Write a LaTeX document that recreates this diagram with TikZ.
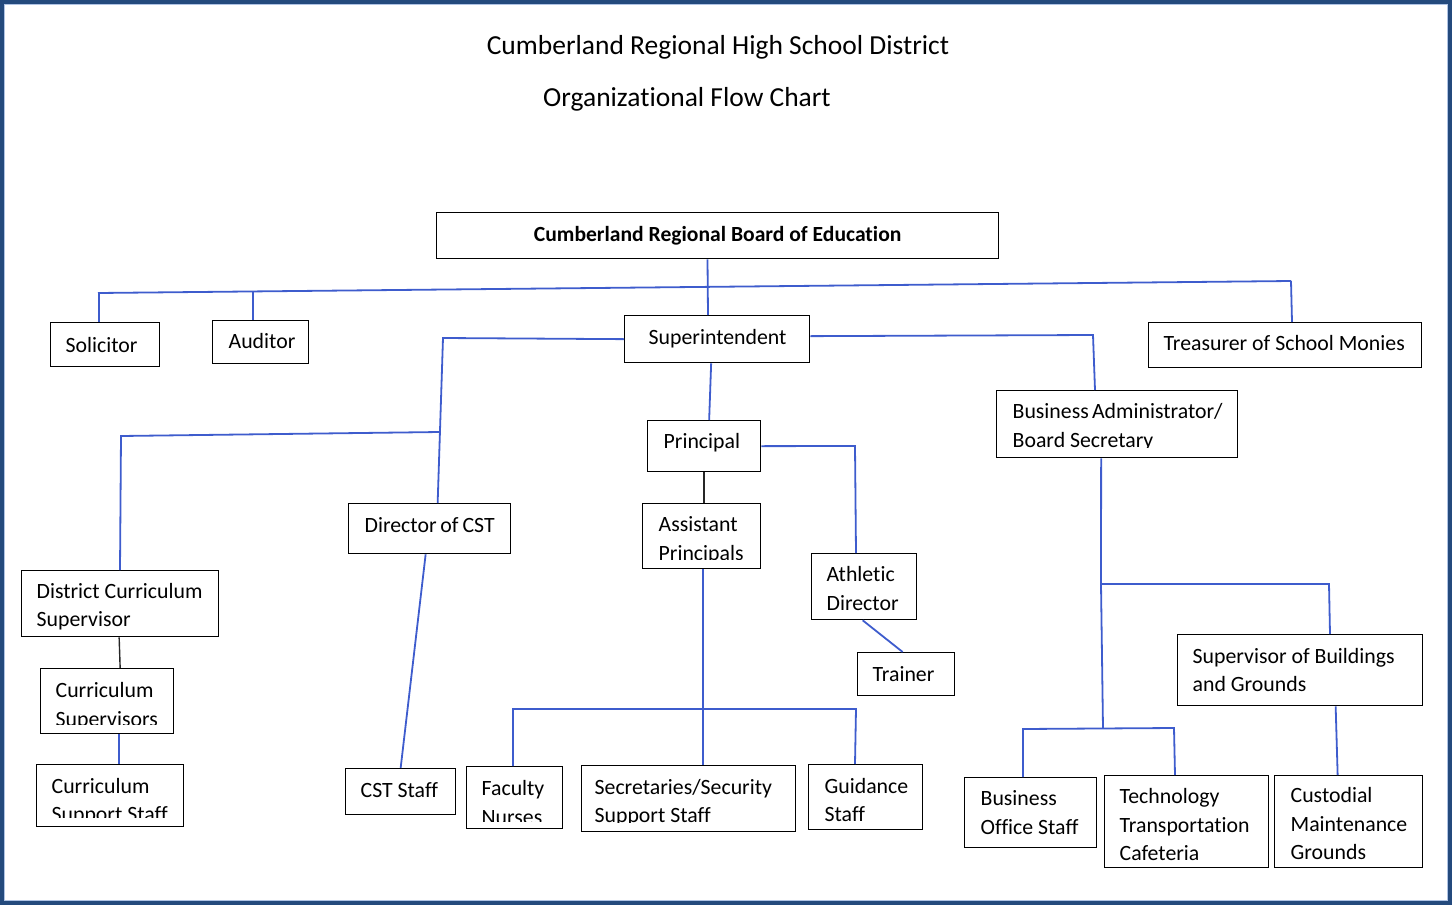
\documentclass[tikz,border=0pt]{standalone}
\usepackage{fontspec}
\setmainfont{Carlito}[Ligatures={NoCommon,NoContextual}]
\hyphenpenalty=10000
\exhyphenpenalty=10000
\newcommand\bxfont{\fontsize{21.8}{28.5}\selectfont}
\newcommand\ttlfont{\fontsize{27.5}{32}\selectfont}
\newcommand\brdfont{\fontsize{21.6}{25}\selectfont\bfseries}
\newcommand\vsend[1]{\endgraf\vspace*{-#1}}
\definecolor{framecol}{RGB}{36,74,125}
\definecolor{framelite}{RGB}{175,195,228}
\definecolor{conn}{RGB}{62,92,205}
\begin{document}
\begin{tikzpicture}[x=1pt,y=-1pt,
  box/.style={draw=black, line width=1.3pt, anchor=north west, align=left, inner ysep=1pt, font=\bxfont, text=black,
    execute at begin node={\spaceskip=0pt\xspaceskip=0pt}},
  vs/.style={execute at end node={\vsend{#1}}},
  link/.style={draw=conn, line width=1.8pt},
  blink/.style={draw=black!85, line width=1.4pt},
  ttl/.style={font=\ttlfont, text=black, inner sep=0pt},
  cover/.style={fill=white, draw=none}]
\useasboundingbox (0,0) rectangle (1452,905);
\draw[framecol, line width=4pt] (2,2) rectangle (1450,903);
\draw[framelite, line width=1pt] (4.5,4.5) rectangle (1447.5,900.5);

% titles
\node[ttl] (t1) at (718,47) {Cumberland Regional High School District};
\node[ttl] (t2) at (687,99) {Organizational Flow Chart};

% boxes
\node[box, font=\brdfont, minimum width=562pt, inner xsep=0pt, minimum height=46pt] (board) at (436,212) {Cumberland Regional Board of Education};
\node[box, text width=79pt, inner xsep=15pt, minimum height=44pt] (sol) at (50,322) {Solicitor};
\node[box, text width=64pt, inner xsep=16pt, minimum height=43pt, vs=-2pt] (aud) at (212,320) {Auditor};
\node[box, text width=137pt, inner xsep=24pt, minimum height=47pt] (sup) at (624,315) {Superintendent};
\node[box, text width=243pt, inner xsep=15pt, minimum height=45pt, vs=-4pt] (tre) at (1148,322) {Treasurer~of~School~Monies};
\node[box, text width=81pt, inner xsep=16pt, minimum height=51pt, vs=-6pt] (pri) at (647,420) {Principal};
\node[box, text width=209pt, inner xsep=16pt, minimum height=67pt, vs=6pt] (ba) at (996,390) {Business~Administrator/\\Board~Secretary};
\node[box, text width=130pt, inner xsep=16pt, minimum height=50pt, vs=-8pt] (dir) at (348,503) {Director~of~CST};
\node[box, text width=86pt, inner xsep=16pt, minimum height=65pt, vs=8pt] (ap) at (642,503) {Assistant\\Principals};
\node[box, text width=75pt, inner xsep=15pt, minimum height=66pt, vs=4pt] (ad) at (811,553) {Athletic\\Director};
\node[box, text width=67pt, inner xsep=15pt, minimum height=43pt] (tr) at (857,652) {Trainer};
\node[box, text width=167pt, inner xsep=15pt, minimum height=66pt, vs=6pt] (dcs) at (21,570) {District~Curriculum\\Supervisor};
\node[box, text width=103pt, inner xsep=15pt, minimum height=65pt, vs=10pt] (cs) at (40,668) {Curriculum\\Supervisors};
\node[box, text width=117pt, inner xsep=15pt, minimum height=62pt, vs=12pt] (css) at (36,764) {Curriculum\\Support~Staff};
\node[box, text width=80pt, inner xsep=15pt, minimum height=46pt, vs=-4pt] (cst) at (345,768) {CST~Staff};
\node[box, text width=66pt, inner xsep=15pt, minimum height=62pt, vs=10pt] (fac) at (466,766) {Faculty\\Nurses};
\node[box, text width=188pt, inner xsep=13pt, minimum height=66pt, vs=8pt] (sec) at (581,765) {Secretaries/Security\\Support~Staff};
\node[box, text width=82pt, inner xsep=16pt, minimum height=65pt, vs=6pt] (gui) at (808,764) {Guidance\\Staff};
\node[box, text width=100pt, inner xsep=16pt, minimum height=70pt] (bos) at (964,777) {Business\\Office~Staff};
\node[box, text width=134pt, inner xsep=15pt, minimum height=92pt, vs=6pt] (tec) at (1104,775) {Technology\\Transportation\\Cafeteria};
\node[box, text width=116pt, inner xsep=16pt, minimum height=92pt, vs=4pt] (cus) at (1274,775) {Custodial\\Maintenance\\Grounds};
\node[box, text width=215pt, inner xsep=15pt, minimum height=71pt] (sbg) at (1177,634) {Supervisor~of~Buildings\\and~Grounds};

% clipped lower text lines, as in the scan
\fill[cover] (37.5,818) rectangle (181.5,824.5);
\fill[cover] (467.5,822) rectangle (560.5,826.5);
\fill[cover] (582.5,822.5) rectangle (793.5,829.5);
\fill[cover] (41.5,725) rectangle (171.5,731.5);
\fill[cover] (643.5,559.5) rectangle (758.5,566.5);
\fill[cover] (997.5,448) rectangle (1235.5,455.5);

% junction points
\coordinate (hL) at (98,293);
\coordinate (hR) at (1291,281);
\coordinate (hSol) at (99,293);
\coordinate (hAud) at (253,291.5);
\coordinate (hBrd) at (707.5,287);
\coordinate (sL) at (443,338);
\coordinate (sLc) at (440,432);
\coordinate (cK) at (121,436);
\coordinate (sR) at (1093,335);
\coordinate (pJ) at (855,446);
\coordinate (fL) at (513,709);
\coordinate (gR) at (856,709);
\coordinate (bJ1) at (1101,584);
\coordinate (bJ1r) at (1329,584);
\coordinate (bJ2) at (1103,728.5);
\coordinate (bL) at (1023,729);
\coordinate (bR) at (1174,728);

% connectors
\draw[link] (hL) -- (hR);
\draw[link] (hSol) -- (sol.north -| hSol);
\draw[link] (hAud) -- (aud.north -| hAud);
\draw[link] (hR) -- ([xshift=1pt]tre.north -| hR);
\draw[link] (board.south -| hBrd) -- ([xshift=0.5pt]sup.north -| hBrd);
\draw[link] (sup.west) -- (sL) -- ([xshift=8pt]dir.north);
\draw[link] (sLc) -- (cK) -- ([xshift=-1pt]dcs.north -| cK);
\draw[link] ([yshift=3pt]sup.east) -- (sR) -- ([xshift=2pt]ba.north -| sR);
\draw[link] ([xshift=-6pt]sup.south) -- ([xshift=5pt]pri.north);
\draw[link] (pri.east) -- (pJ) -- ([xshift=1pt]ad.north -| pJ);
\draw[blink] (pri.south) -- (ap.north -| pri.south);
\draw[link] ([xshift=1pt]ap.south) -- ([xshift=1pt]sec.north -| ap.south);
\draw[link] (fac.north -| fL) -- (fL) -- (gR) -- ([xshift=-1pt]gui.north -| gR);
\draw[link] ([xshift=-1.5pt]ad.south) -- ([xshift=-3.5pt]tr.north);
\draw[link] ([xshift=-4pt]dir.south) -- (cst.north);
\draw[blink] ([xshift=-1pt]dcs.south) -- (cs.north -| dcs.south);
\draw[link] ([xshift=-1pt]cs.south -| dcs.south) -- ([xshift=-1pt]css.north -| dcs.south);
\draw[link] ([xshift=-16pt]ba.south) -- (bJ1) -- (bJ2);
\draw[link] (bJ1) -- (bJ1r) -- ([xshift=1pt]sbg.north -| bJ1r);
\draw[link] (bos.north -| bL) -- (bL) -- (bR) -- ([xshift=1pt]tec.north -| bR);
\draw[link] ([xshift=35.5pt]sbg.south) -- ([xshift=-11pt]cus.north);
\end{tikzpicture}
\end{document}
